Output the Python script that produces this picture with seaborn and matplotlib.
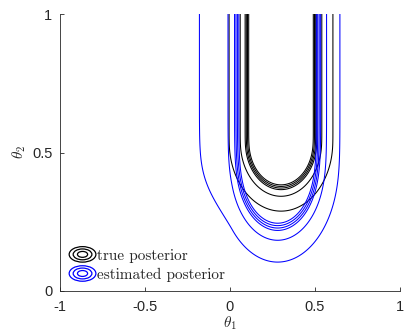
import numpy as np
import pandas as pd
import seaborn as sns
import matplotlib
matplotlib.use("Agg")
import matplotlib.pyplot as plt
from matplotlib.lines import Line2D
from matplotlib.patches import Ellipse
from matplotlib.legend_handler import HandlerBase

# ---------------- data ----------------
# banana-shaped posterior models: centre, horizontal scale, height where the U
# starts to close, vertical scale, roundness of the bend, heaviness of the tails
TRUE_PARAMS = dict(center=0.30, scale=0.10, top=0.54, depth=0.0825, bend=0.02,
                   tail_left=100.0, tail_right=100.0)
EST_PARAMS = dict(center=0.28, scale=0.12, top=0.47, depth=0.12, bend=0.07,
                  tail_left=0.715, tail_right=100.0)
TAIL_START = 2.2
# contour radii (same levels for both densities)
LEVEL_RADII = [3.05, 2.4, 2.11, 2.04, 1.97, 1.9]
SERIES_NAMES = ["true posterior", "estimated posterior"]
SERIES_COLORS = ["black", "blue"]
X_TICKS = [-1, -0.5, 0, 0.5, 1]
X_TICKLABELS = ["-1", "-0.5", "0", "0.5", "1"]
Y_TICKS = [0, 0.5, 1]
Y_TICKLABELS = ["0", "0.5", "1"]
X_LABEL = r"$\theta_1$"
Y_LABEL = r"$\theta_2$"

# ---------------- figure ----------------
sns.set_theme(style="ticks")
plt.rcParams["font.family"] = ["Liberation Sans", "DejaVu Sans"]
plt.rcParams["mathtext.fontset"] = "cm"
plt.rcParams["axes.unicode_minus"] = False

W, H = 404, 332
fig = plt.figure(figsize=(W / 100, H / 100), dpi=100)
ax = fig.add_axes([60 / W, 1 - 291 / H, 340 / W, 277 / H])

g1 = np.linspace(-1, 1, 801)
g2 = np.linspace(0, 1.05, 521)
T1, T2 = np.meshgrid(g1, g2)


def tail(u, s):
    w = np.maximum(0.0, u - TAIL_START)
    return np.where(u > TAIL_START, TAIL_START + s * np.log1p(w / s), u)


def density(p):
    d = (T1 - p["center"]) / p["scale"]
    u = np.where(d < 0, tail(-d, p["tail_left"]), tail(d, p["tail_right"]))
    k = p["bend"]
    v = k * np.logaddexp(0.0, (p["top"] - T2) / k) / p["depth"]
    return np.exp(-0.5 * (u ** 2 + v ** 2))


levels = np.sort(np.exp(-0.5 * np.array(LEVEL_RADII) ** 2))
for params, col in zip([TRUE_PARAMS, EST_PARAMS], SERIES_COLORS):
    ax.contour(T1, T2, density(params), levels=levels, colors=col, linewidths=0.75)

TXT = "#262626"
ax.set_xlim(-1, 1)
ax.set_ylim(0, 1)
ax.set_xticks(X_TICKS)
ax.set_xticklabels(X_TICKLABELS)
ax.set_yticks(Y_TICKS)
ax.set_yticklabels(Y_TICKLABELS)
ax.tick_params(direction="in", length=2.8, width=0.6, labelsize=10.5, colors=TXT)
ax.tick_params(axis="x", pad=6.5)
ax.tick_params(axis="y", pad=5.5)
ax.set_xlabel(X_LABEL, fontsize=11, labelpad=0.5, color=TXT)
ax.set_ylabel(Y_LABEL, fontsize=11, labelpad=3, color=TXT)
sns.despine(ax=ax)
for sp in ["left", "bottom"]:
    ax.spines[sp].set_linewidth(0.6)
    ax.spines[sp].set_color(TXT)


class ContourHandler(HandlerBase):
    def __init__(self, color):
        super().__init__()
        self.color = color

    def create_artists(self, legend, orig_handle, xdescent, ydescent, width, height, fontsize, trans):
        cx = width / 2 - xdescent
        cy = height / 2 - ydescent
        arts = []
        for s in (1.0, 0.7, 0.38):
            arts.append(Ellipse((cx, cy), width * s, height * 1.45 * s, fill=False,
                                edgecolor=self.color, lw=0.9, transform=trans))
        return arts


handles = [Line2D([], [], color=c) for c in SERIES_COLORS]
leg = ax.legend(handles, SERIES_NAMES, loc="lower left", bbox_to_anchor=(0.0, 0.0),
                frameon=False, handlelength=1.75, handletextpad=0.1, labelspacing=0.32,
                borderpad=0.3, borderaxespad=0.3, prop={"family": "cmr10", "size": 11},
                handler_map={handles[0]: ContourHandler(SERIES_COLORS[0]),
                             handles[1]: ContourHandler(SERIES_COLORS[1])})

fig.savefig("out.png", dpi=100)
